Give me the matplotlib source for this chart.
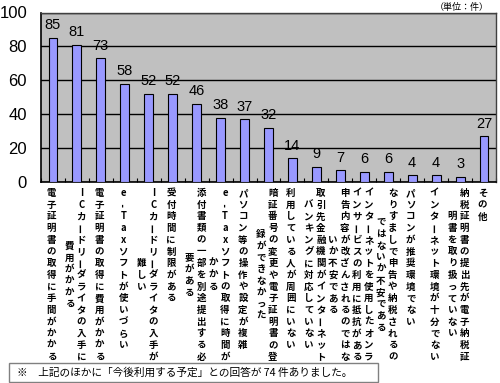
import matplotlib
matplotlib.use("Agg")
import matplotlib.pyplot as plt
from matplotlib.patches import Rectangle
import numpy as np

# ---- data ----
labels = [
    ["電子証明書の取得に手間がかかる"],
    ["ICカードリーダライタの入手に", "費用がかかる"],
    ["電子証明書の取得に費用がかかる"],
    ["e-Taxソフトが使いづらい"],
    ["ICカードリーダライタの入手が", "難しい"],
    ["受付時間に制限がある"],
    ["添付書類の一部を別途提出する必", "要がある"],
    ["e-Taxソフトの取得に時間が", "かかる"],
    ["パソコン等の操作や設定が複雑"],
    ["暗証番号の変更や電子証明書の登", "録ができなかった"],
    ["利用している人が周囲にいない"],
    ["取引先金融機関がインターネット", "バンキングに対応していない"],
    ["申告内容が改ざんされるのではな", "いか不安である"],
    ["インターネットを使用したオンラ", "インサービスの利用に抵抗がある"],
    ["なりすましで申告や納税されるの", "ではないか不安である"],
    ["パソコンが推奨環境でない"],
    ["インターネット環境が十分でない"],
    ["納税証明書の提出先が電子納税証", "明書を取り扱っていない"],
    ["その他"],
]
values = [85, 81, 73, 58, 52, 52, 46, 38, 37, 32, 14, 9, 7, 6, 6, 4, 4, 3, 27]
yticks = [0, 20, 40, 60, 80, 100]
unit_text = "（単位：件）"
note_text = "※　上記のほかに「今後利用する予定」との回答が 74 件ありました。"

JP = ["Noto Sans CJK JP", "DejaVu Sans"]
NUM = ["Liberation Sans", "DejaVu Sans"]

W, H = 500, 383
fig = plt.figure(figsize=(W / 100, H / 100), dpi=100)
fig.patch.set_facecolor("white")

ax_l, ax_r, ax_t, ax_b = 41, 496, 12.5, 182
ax = fig.add_axes([ax_l / W, 1 - ax_b / H, (ax_r - ax_l) / W, (ax_b - ax_t) / H])
ax.set_facecolor("#C0C0C0")

x = np.arange(len(values))
bars = ax.bar(x, values, width=0.37, color="#9999FF", edgecolor="#000000",
              linewidth=0.8, zorder=3)
ax.set_xlim(-0.5, len(values) - 0.5)
ax.set_ylim(0, 100)
ax.set_yticks(yticks)
ax.set_yticklabels([str(v) for v in yticks], fontfamily=NUM, fontsize=12)
ax.tick_params(axis="y", length=0, pad=10)
ax.yaxis.grid(True, color="#000000", linewidth=1.0, zorder=1)
ax.set_axisbelow(True)

# category boundary ticks
ax.set_xticks(np.arange(-0.5, len(values), 1.0))
ax.set_xticklabels([])
ax.tick_params(axis="x", direction="in", length=3, width=0.8, color="#000000")

for s in ["left", "bottom"]:
    ax.spines[s].set_color("#000000")
    ax.spines[s].set_linewidth(1.2)
for s in ["top", "right"]:
    ax.spines[s].set_color("#404040")
    ax.spines[s].set_linewidth(1.0)

# value labels
for xi, v in zip(x, values):
    ax.annotate(str(v), xy=(xi, v), xytext=(0, 4), textcoords="offset points",
                ha="center", va="bottom", fontfamily=NUM, fontsize=10.5,
                zorder=5)

# vertical category labels
px = 0.72  # points per pixel
char_step = 11.7 * px
col_step = 12 * px
first_off = 11 * px
for xi, cols in zip(x, labels):
    n = len(cols)
    maxk = max(len(c) for c in cols)
    trans = ax.get_xaxis_transform()
    for j, col in enumerate(cols):
        dx = (-1.5 * px) + ((n - 1) / 2 - j) * col_step
        top = (maxk - len(col)) / 2 * char_step
        for k, ch in enumerate(col):
            rot = 90 if ch in "ー-" else 0
            dy = -(first_off + top + k * char_step)
            ax.annotate(ch, xy=(xi, 0), xycoords=trans, xytext=(dx, dy),
                        textcoords="offset points", ha="center", va="center",
                        rotation=rot, fontfamily=JP, fontsize=6.8,
                        fontweight="bold", annotation_clip=False)

# unit label
fig.text(489 / W, 1 - 7 / H, unit_text, ha="right", va="center",
         fontfamily=JP, fontsize=6.5)

# footnote box
fig.patches.append(Rectangle((9 / W, 1 - 382 / H), (378 - 9) / W, (382 - 363) / H,
                             transform=fig.transFigure, facecolor="white",
                             edgecolor="#808080", linewidth=1.0, zorder=10))
fig.text(17 / W, 1 - 372.5 / H, note_text, ha="left", va="center",
         fontfamily=JP, fontsize=7.7, zorder=11)

fig.savefig("out.png", dpi=100, facecolor="white")
